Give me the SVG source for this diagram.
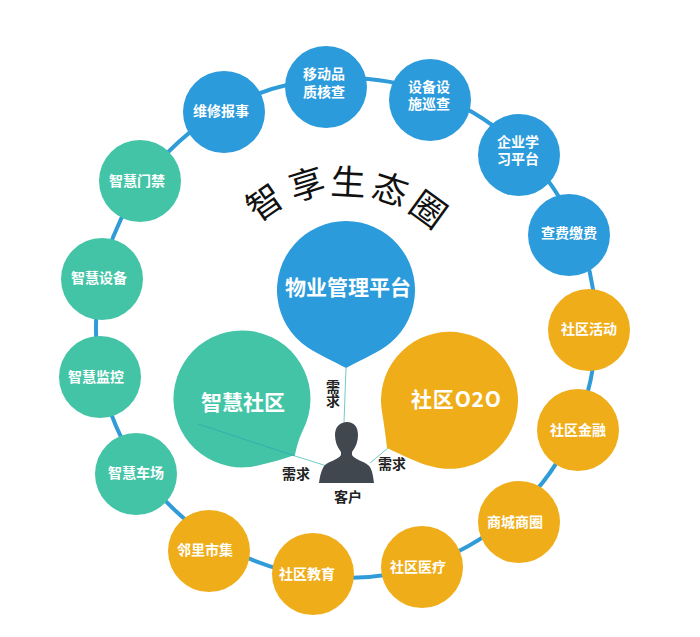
<svg xmlns="http://www.w3.org/2000/svg" width="700" height="637" viewBox="0 0 700 637">
<style>
text{font-family:"Noto Sans CJK SC","Noto Sans",sans-serif;text-anchor:middle}
.n{font-size:14px;font-weight:700;fill:#fff}
.big{font-size:21px;font-weight:700;fill:#fff}
.k{font-size:14px;font-weight:700;fill:#222}
.t{font-size:35px;font-weight:400;fill:#111}
.blue{fill:#2b9bdc}.green{fill:#43c4a6}.orange{fill:#f0ad1a}
.ln{fill:none;stroke:#2f9bd8;stroke-width:4}
.thin{fill:none;stroke:#6fcdc8;stroke-width:1}
.dark{stroke:#36aeae}
</style>
<rect width="700" height="637" fill="#fff"/>
<g id="platform"><path class="blue" d="M346,368C335,362 319,355 307,347A69,69 0 1 1 385,347C373,355 357,362 346,368Z"/><text class="big" x="348" y="295">物业管理平台</text></g>
<g id="community"><path class="green" d="M295,455C296,450 298.5,439 303,430A68.5,68.5 0 1 0 260,465C272,462 284,459 295,455Z"/><text class="big" x="243" y="410">智慧社区</text></g>
<g id="o2o"><path class="orange" d="M387,448C386,438 384,424 382,412A68.5,68.5 0 1 1 430,466C418,463 402,455 387,448Z"/><text class="big" x="456" y="407" textLength="90">社区O2O</text></g>
<g id="connectors">
<path class="ln" d="M223,110A250,250 0 0 1 325.3,78.8"/>
<path class="ln" d="M325.3,78.8A250,250 0 0 1 432.4,93.4"/>
<path class="ln" d="M432.4,93.4A250,250 0 0 1 522.8,151.2"/>
<path class="ln" d="M522.8,151.2A250,250 0 0 1 576.8,231.8"/>
<path class="ln" d="M576.8,231.8A250,250 0 0 1 596,330"/>
<path class="ln" d="M596,330A250,250 0 0 1 574.9,428.6"/>
<path class="ln" d="M574.9,428.6A250,250 0 0 1 512.4,514.6"/>
<path class="ln" d="M512.4,514.6A250,250 0 0 1 421.8,566.3"/>
<path class="ln" d="M421.8,566.3A250,250 0 0 1 312.8,575.8"/>
<path class="ln" d="M312.8,575.8A250,250 0 0 1 215.1,541"/>
<path class="ln" d="M215.1,541A250,250 0 0 1 140.8,470.7"/>
<path class="ln" d="M140.8,470.7A250,250 0 0 1 100.8,376.9"/>
<path class="ln" d="M100.8,376.9A250,250 0 0 1 100.9,278.8"/>
<path class="ln" d="M100.9,278.8A250,250 0 0 1 142.5,182.8"/>
<path class="ln" d="M142.5,182.8A250,250 0 0 1 223,110"/>
<path class="thin" d="M346,368L344,422"/>
<path class="thin dark" d="M198,424L295,456"/>
<path class="thin" d="M295,456L330,467"/>
<path class="thin" d="M388,448L370,463"/>
</g>
<g id="n1"><circle class="blue" cx="224" cy="112" r="41"/><text class="n" x="221" y="116">维修报事</text></g>
<g id="n2"><circle class="blue" cx="326" cy="87" r="41"/><text class="n" x="324" y="79">移动品<tspan x="324" dy="18">质核查</tspan></text></g>
<g id="n3"><circle class="blue" cx="430" cy="100" r="41"/><text class="n" x="429" y="92">设备设<tspan x="429" dy="17">施巡查</tspan></text></g>
<g id="n4"><circle class="blue" cx="519" cy="155" r="41"/><text class="n" x="518" y="147">企业学<tspan x="518" dy="17">习平台</tspan></text></g>
<g id="n5"><circle class="blue" cx="569" cy="235" r="41"/><text class="n" x="569" y="238">查费缴费</text></g>
<g id="n6"><circle class="orange" cx="589" cy="330" r="41"/><text class="n" x="589" y="334">社区活动</text></g>
<g id="n7"><circle class="orange" cx="578" cy="430" r="41"/><text class="n" x="578" y="435">社区金融</text></g>
<g id="n8"><circle class="orange" cx="519" cy="522" r="41"/><text class="n" x="515" y="527">商城商圈</text></g>
<g id="n9"><circle class="orange" cx="422" cy="567" r="41"/><text class="n" x="418" y="572">社区医疗</text></g>
<g id="n10"><circle class="orange" cx="313" cy="574" r="41"/><text class="n" x="307" y="579">社区教育</text></g>
<g id="n11"><circle class="orange" cx="209" cy="551" r="41"/><text class="n" x="205" y="555">邻里市集</text></g>
<g id="n12"><circle class="green" cx="136" cy="474" r="41"/><text class="n" x="136" y="478">智慧车场</text></g>
<g id="n13"><circle class="green" cx="100" cy="377" r="41"/><text class="n" x="96" y="382">智慧监控</text></g>
<g id="n14"><circle class="green" cx="102" cy="279" r="41"/><text class="n" x="99" y="283">智慧设备</text></g>
<g id="n15"><circle class="green" cx="140" cy="181" r="41"/><text class="n" x="137" y="186">智慧门禁</text></g>
<g id="title">
<text class="t" y="12" transform="translate(265,203) rotate(-35)">智</text>
<text class="t" y="12" transform="translate(307,185) rotate(-17)">享</text>
<text class="t" y="12" transform="translate(348,183) rotate(3)">生</text>
<text class="t" y="12" transform="translate(390,190) rotate(18)">态</text>
<text class="t" y="12" transform="translate(428,210) rotate(36)">圈</text>
</g>
<g id="customer"><path fill="#41474e" d="M319,483C320,475 322,468 325,465C329,461 338,460 341,455L341,452C337,447 335,441 335,435C335,427 340,422 347,422C354,422 358,427 358,435C358,441 356,447 352,452L352,455C355,460 364,461 368,465C372,468 373,475 374,483Z"/><text class="k" x="348" y="502">客户</text></g>
<g id="labels">
<text class="k" x="333" y="394" style="writing-mode:vertical-rl">需求</text>
<text class="k" x="296" y="479">需求</text>
<text class="k" x="392" y="469">需求</text>
</g>
</svg>
